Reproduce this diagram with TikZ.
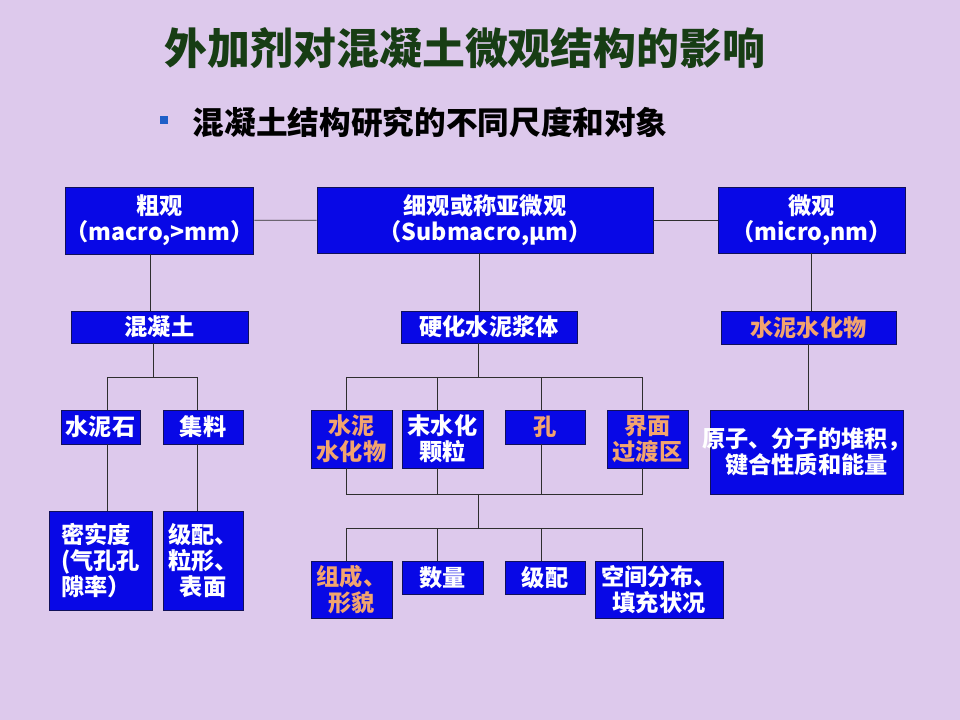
\documentclass[tikz,border=0pt]{standalone}
\usepackage{fontspec}
\usepackage{tikz}
\usetikzlibrary{positioning,calc}
\newfontfamily\cjk{Noto Sans CJK SC}
\definecolor{SlideLilac}{HTML}{DDC9EC}
\definecolor{BoxBlue}{HTML}{0808E6}
\definecolor{BoxEdge}{HTML}{10105A}
\definecolor{LinkGray}{HTML}{2E2E2E}
\definecolor{HydOrange}{HTML}{F2A46E}
\definecolor{TitleGreen}{HTML}{173D14}
\definecolor{BulletBlue}{HTML}{1F5FC8}
\tikzset{
  scalebox/.style={draw=BoxEdge,line width=0.6pt,fill=BoxBlue,text=white,align=center,inner sep=0pt,font=\cjk\bfseries\fontsize{16.5}{18.5}\selectfont},
  orangetext/.style={text=HydOrange},
  treelink/.style={draw=LinkGray,line width=0.5pt}
}

\begin{document}
\begin{tikzpicture}[x=0.025cm,y=-0.025cm]
\useasboundingbox[fill=SlideLilac] (0,0) rectangle (960,720);
% heading
\node[font=\cjk\bfseries\fontsize{30.5}{36}\selectfont,text=TitleGreen] (title) at (465,48) {外加剂对混凝土微观结构的影响};
\node[fill=BulletBlue,minimum size=0.18cm,inner sep=0pt] (bullet) at (164,120) {};
\node[anchor=west,font=\cjk\bfseries\fontsize{22.5}{27}\selectfont] (subtitle) at (188,122) {混凝土结构研究的不同尺度和对象};
% scale levels
\node[scalebox,minimum width=4.425cm,minimum height=1.675cm] (macro) at (159.5,220.5) {粗观\\（macro,>mm）};
\node[scalebox,minimum width=8.4cm,minimum height=1.65cm] (submacro) at (485,220) {细观或称亚微观\\（Submacro,μm）};
\node[scalebox,minimum width=4.675cm,minimum height=1.65cm] (micro) at (811.5,220) {微观\\（micro,nm）};
% objects
\node[scalebox,minimum width=4.425cm,minimum height=0.8cm] (concrete) at (159.5,327) {混凝土};
\node[scalebox,minimum width=4.4cm,minimum height=0.8cm] (paste) at (489,327) {硬化水泥浆体};
\node[scalebox,orangetext,minimum width=4.375cm,minimum height=0.825cm] (hydrate) at (808.5,327.5) {水泥水化物};
% concrete branch
\node[scalebox,minimum width=1.975cm,minimum height=0.85cm] (stone) at (100.5,427) {水泥石};
\node[scalebox,minimum width=2cm,minimum height=0.85cm] (aggr) at (203,427) {集料};
\node[scalebox,align=left,minimum width=2.575cm,minimum height=2.475cm] (density) at (100.5,560.5) {密实度\\(气孔孔\\隙率）};
\node[scalebox,minimum width=2cm,minimum height=2.475cm] (grading) at (203,560.5) {级配、\\粒形、\\表面};
% paste branch
\node[scalebox,orangetext,minimum width=2.025cm,minimum height=1.45cm] (hydprod) at (351.5,439) {水泥\\水化物};
\node[scalebox,minimum width=2.025cm,minimum height=1.45cm] (unhyd) at (442.5,439) {末水化\\颗粒};
\node[scalebox,orangetext,minimum width=2cm,minimum height=0.85cm] (pore) at (545,427) {孔};
\node[scalebox,orangetext,minimum width=2.025cm,minimum height=1.45cm] (itz) at (647.5,439) {界面\\过渡区};
\node[scalebox,minimum width=4.825cm,minimum height=2.1cm] (atom) at (806.5,452) {\clap{原子、分子的堆积，}\\\clap{键合性质和能量}};
% features
\node[scalebox,orangetext,minimum width=2.025cm,minimum height=1.425cm] (comp) at (351.5,589.5) {组成、\\形貌};
\node[scalebox,minimum width=2.025cm,minimum height=0.825cm] (amount) at (442.5,577.5) {数量};
\node[scalebox,minimum width=2cm,minimum height=0.825cm] (grade) at (545,577.5) {级配};
\node[scalebox,minimum width=3.2cm,minimum height=1.425cm] (spatial) at (659,589.5) {空间分布、\\填充状况};
% junctions
\coordinate (jc) at (153,377);
\coordinate (jp) at (478,377);
\coordinate (jup) at (478,494);
\coordinate (jlow) at (478,528);
% links
\draw[treelink] (macro) -- (submacro);
\draw[treelink] (submacro) -- (micro);
\draw[treelink] ([xshift=-0.24cm]macro.south) -- ([xshift=-0.24cm]macro.south |- concrete.north);
\draw[treelink] ([xshift=-0.15cm]submacro.south) -- ([xshift=-0.15cm]submacro.south |- paste.north);
\draw[treelink] (micro.south) -- (micro.south |- hydrate.north);
\draw[treelink] (hydrate.south) -- (hydrate.south |- atom.north);
\draw[treelink] (concrete.south -| jc) -- (jc);
\draw[treelink] ([xshift=0.16cm]stone.north) -- ([xshift=0.16cm]stone.north |- jc) -| ([xshift=-0.15cm]aggr.north);
\draw[treelink] ([xshift=0.16cm]stone.south) -- ([xshift=0.16cm]stone.south |- density.north);
\draw[treelink] ([xshift=-0.15cm]aggr.south) -- ([xshift=-0.15cm]aggr.south |- grading.north);
\draw[treelink] (paste.south -| jp) -- (jp);
\draw[treelink] ([xshift=-0.14cm]hydprod.north) -- ([xshift=-0.14cm]hydprod.north |- jp) -| ([xshift=-0.14cm]itz.north);
\draw[treelink] ([xshift=-0.14cm]unhyd.north) -- ([xshift=-0.14cm]unhyd.north |- jp);
\draw[treelink] ([xshift=-0.1cm]pore.north) -- ([xshift=-0.1cm]pore.north |- jp);
\draw[treelink] ([xshift=-0.14cm]hydprod.south) -- ([xshift=-0.14cm]hydprod.south |- jup) -| ([xshift=-0.14cm]itz.south);
\draw[treelink] ([xshift=-0.14cm]unhyd.south) -- ([xshift=-0.14cm]unhyd.south |- jup);
\draw[treelink] ([xshift=-0.1cm]pore.south) -- ([xshift=-0.1cm]pore.south |- jup);
\draw[treelink] (jup) -- (jlow);
\draw[treelink] ([xshift=-0.14cm]comp.north) -- ([xshift=-0.14cm]comp.north |- jlow) -- ([xshift=-0.14cm]itz.south |- jlow) -- ([xshift=-0.14cm]itz.south |- spatial.north);
\draw[treelink] ([xshift=-0.14cm]amount.north) -- ([xshift=-0.14cm]amount.north |- jlow);
\draw[treelink] ([xshift=-0.1cm]grade.north) -- ([xshift=-0.1cm]grade.north |- jlow);
\end{tikzpicture}
\end{document}
